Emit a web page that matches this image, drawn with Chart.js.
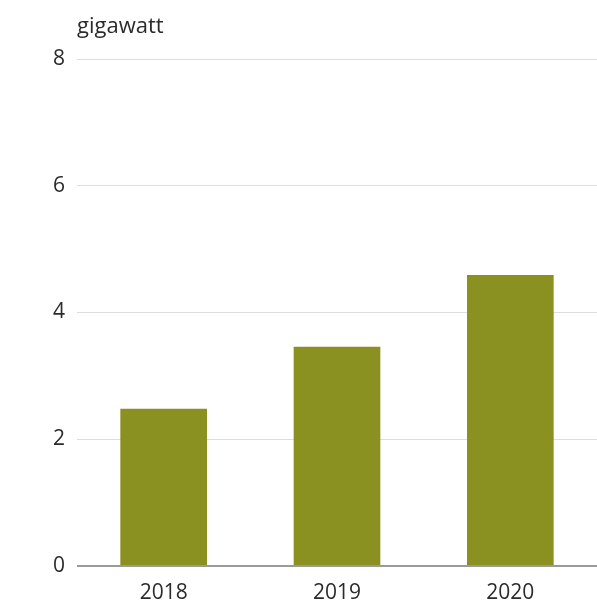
<!DOCTYPE html>
<html>
<head>
<meta charset="utf-8">
<script src="https://cdn.jsdelivr.net/npm/chart.js@4"></script>
<style>
  body { margin: 0; background: #fff; }
</style>
</head>
<body>
<canvas id="chart" width="597" height="601"></canvas>
<script>
// Chart data
const years = ['2018', '2019', '2020'];
const capacity = [2.48, 3.46, 4.59];
const yTicks = [0, 2, 4, 6, 8];
const unitLabel = 'gigawatt';

const textColor = '#2b2b2b';
const fontFamily = '"Open Sans", sans-serif';

// Draw the unit label above the plot, left aligned with the grid
const unitPlugin = {
  id: 'unitLabel',
  afterDraw(chart) {
    const ctx = chart.ctx;
    ctx.save();
    ctx.font = '22px ' + fontFamily;
    ctx.fillStyle = textColor;
    ctx.textAlign = 'left';
    ctx.textBaseline = 'middle';
    ctx.fillText(unitLabel, chart.chartArea.left, 27);
    ctx.restore();
  }
};

new Chart(document.getElementById('chart'), {
  type: 'bar',
  data: {
    labels: years,
    datasets: [{
      data: capacity,
      backgroundColor: '#8a9121',
      barPercentage: 0.5,
      categoryPercentage: 1.0
    }]
  },
  options: {
    responsive: false,
    animation: false,
    layout: { padding: { top: 59, right: 0, bottom: 0, left: 0 } },
    plugins: { legend: { display: false }, tooltip: { enabled: false } },
    scales: {
      x: {
        grid: { display: false },
        border: { display: false },
        ticks: { color: textColor, font: { family: fontFamily, size: 21 }, padding: 6 },
        afterFit(scale) { scale.height = 35; }
      },
      y: {
        min: 0,
        max: 8,
        afterBuildTicks(scale) { scale.ticks = yTicks.map(v => ({ value: v })); },
        border: { display: false },
        grid: {
          drawTicks: false,
          color: c => c.tick && c.tick.value === 0 ? '#9a9a9a' : '#dddddd',
          lineWidth: c => c.tick && c.tick.value === 0 ? 2 : 1
        },
        ticks: { color: textColor, font: { family: fontFamily, size: 21 }, padding: 12 },
        afterFit(scale) { scale.width = 77; }
      }
    }
  },
  plugins: [unitPlugin]
});
</script>
</body>
</html>
